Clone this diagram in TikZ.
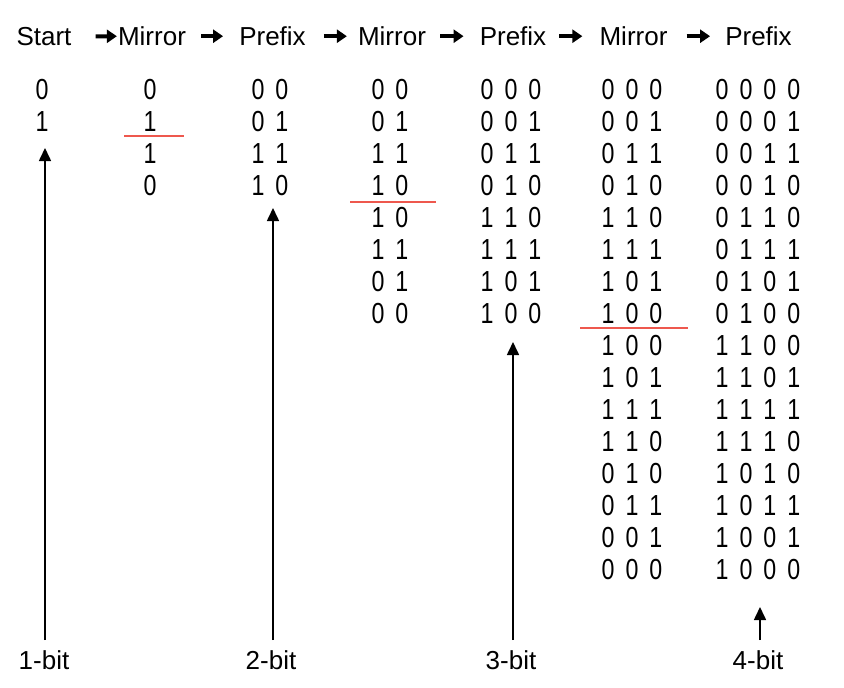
\documentclass[tikz,border=0pt]{standalone}
\usepackage{fontspec}
\setmainfont{Liberation Sans}
\newfontfamily\digitfont[FakeStretch=0.8]{Liberation Sans}
\usetikzlibrary{arrows.meta}
\definecolor{sepred}{RGB}{238,88,78}
\def\gobbleone#1{}
\def\spreadA#1#2{#1\ifx\relax#2\expandafter\gobbleone\else\hspace{11pt}\expandafter\spreadA\fi#2}
\def\spreadbits#1{\spreadA#1\relax}
\begin{document}
\begin{tikzpicture}[x=1pt,y=-1pt,
  hdr/.style={inner sep=0pt,anchor=base,font=\fontsize{26}{30}\selectfont},
  bits/.style={inner sep=0pt,anchor=base,font=\digitfont\fontsize{29}{32}\selectfont},
  harrow/.style={line width=4pt,-{Triangle[width=13pt,length=10pt]}},
  uparrow/.style={line width=1.6pt,-{Triangle[width=12pt,length=13pt]}},
  sepline/.style={draw=sepred,line width=2pt}]
\useasboundingbox (0,0) rectangle (844,688);

% headers
\node[hdr] (h1) at (44,45.5) {Start};
\node[hdr] (h2) at (152,45.5) {Mirror};
\node[hdr] (h3) at (272.5,45.5) {Prefix};
\node[hdr] (h4) at (392,45.5) {Mirror};
\node[hdr] (h5) at (513,45.5) {Prefix};
\node[hdr] (h6) at (633.5,45.5) {Mirror};
\node[hdr] (h7) at (758.5,45.5) {Prefix};

\draw[harrow,shorten <=24pt,shorten >=1pt] (h1.east) -- (h2.west);
\draw[harrow,shorten <=15pt,shorten >=16pt] (h2.east) -- (h3.west);
\draw[harrow,shorten <=18pt,shorten >=11pt] (h3.east) -- (h4.west);
\draw[harrow,shorten <=14pt,shorten >=16pt] (h4.east) -- (h5.west);
\draw[harrow,shorten <=13pt,shorten >=17pt] (h5.east) -- (h6.west);
\draw[harrow,shorten <=19pt,shorten >=15pt] (h6.east) -- (h7.west);

% columns of codes
\foreach \r [count=\i] in {0,1}
  \node[bits] (a\i) at (42,67.5+32*\i) {\expandafter\spreadbits\expandafter{\r}};
\foreach \r [count=\i] in {0,1,1,0}
  \node[bits] (b\i) at (150,67.5+32*\i) {\expandafter\spreadbits\expandafter{\r}};
\foreach \r [count=\i] in {00,01,11,10}
  \node[bits] (c\i) at (270,67.5+32*\i) {\expandafter\spreadbits\expandafter{\r}};
\foreach \r [count=\i] in {00,01,11,10,10,11,01,00}
  \node[bits] (d\i) at (390,67.5+32*\i) {\expandafter\spreadbits\expandafter{\r}};
\foreach \r [count=\i] in {000,001,011,010,110,111,101,100}
  \node[bits] (e\i) at (511,67.5+32*\i) {\expandafter\spreadbits\expandafter{\r}};
\foreach \r [count=\i] in {000,001,011,010,110,111,101,100,100,101,111,110,010,011,001,000}
  \node[bits] (f\i) at (632,67.5+32*\i) {\expandafter\spreadbits\expandafter{\r}};
\foreach \r [count=\i] in {0000,0001,0011,0010,0110,0111,0101,0100,1100,1101,1111,1110,1010,1011,1001,1000}
  \node[bits] (g\i) at (758,67.5+32*\i) {\expandafter\spreadbits\expandafter{\r}};

% mirror lines
\draw[sepline] (124,136) -- (184,136);
\draw[sepline] (350,202) -- (436,202);
\draw[sepline] (580,328) -- (688,328);

% bit labels and arrows
\node[hdr] (l1) at (44,669) {1-bit};
\node[hdr] (l2) at (271,669) {2-bit};
\node[hdr] (l3) at (511,669) {3-bit};
\node[hdr] (l4) at (758,669) {4-bit};

\coordinate (t1) at (45,148);
\coordinate (t2) at (273,208);
\coordinate (t3) at (513,342);
\coordinate (t4) at (760,607);
\coordinate (s1) at (45,640);
\coordinate (s2) at (273,640);
\coordinate (s3) at (513,640);
\coordinate (s4) at (760,640);
\draw[uparrow] (s1) -- (t1);
\draw[uparrow] (s2) -- (t2);
\draw[uparrow] (s3) -- (t3);
\draw[uparrow] (s4) -- (t4);
\end{tikzpicture}
\end{document}
